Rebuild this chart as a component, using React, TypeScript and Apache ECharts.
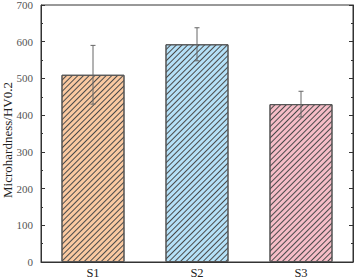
import React, { useEffect, useRef } from "react";
import * as echarts from "echarts";

const categories = ["S1", "S2", "S3"];
const values = [510, 593, 430];
const errors = [80, 45, 35];
const colors = ["#FAC9A1", "#B5E1F8", "#F6BDC7"];
const yTicks = { min: 0, max: 700, interval: 100 };
const yTitle = "Microhardness/HV0.2";

export default function App() {
  const ref = useRef<HTMLDivElement>(null);
  useEffect(() => {
    const chart = echarts.init(ref.current!, null, { renderer: "svg" });
    const font = "'Liberation Serif', 'Times New Roman', serif";
    const yAxisCommon = {
      type: "value",
      min: yTicks.min,
      max: yTicks.max,
      interval: yTicks.interval,
      axisLine: { show: true, lineStyle: { color: "#333", width: 1 } },
      axisTick: { show: true, inside: true, length: 4, lineStyle: { color: "#333" } },
      minorTick: { show: true, splitNumber: 2, length: 2, lineStyle: { color: "#333" } },
      splitLine: { show: false },
    };
    chart.setOption({
      animation: false,
      grid: {
        left: 41, right: 4, top: 5, bottom: 16,
        containLabel: false,
        outerBoundsMode: "none",
        show: true, borderColor: "#333", borderWidth: 1,
      },
      graphic: [
        {
          type: "text",
          x: 7,
          y: 140,
          rotation: Math.PI / 2,
          style: {
            text: yTitle,
            fontFamily: font,
            fontSize: 13,
            fill: "#222",
            align: "center",
            verticalAlign: "middle",
          },
        },
      ],
      xAxis: [
        {
          type: "category",
          data: categories,
          axisLine: { show: true, lineStyle: { color: "#333" } },
          axisTick: { show: false },
          axisLabel: { color: "#222", fontFamily: font, fontSize: 12.5, margin: 4 },
        },
      ],
      yAxis: [
        {
          ...yAxisCommon,
          axisLabel: { color: "#555", fontFamily: font, fontSize: 11, margin: 8 },
        },
        {
          ...yAxisCommon,
          position: "right",
          axisLabel: { show: false },
        },
      ],
      series: [
        {
          type: "bar",
          barWidth: "60.6%",
          data: values.map((v, i) => ({
            value: v,
            itemStyle: {
              color: colors[i],
              borderColor: "#555",
              borderWidth: 1,
              decal: {
                symbol: "rect",
                symbolSize: 1,
                dashArrayX: [1, 0],
                dashArrayY: [1, 2.6],
                rotation: -Math.PI / 4,
                color: "#4a4a4a",
              },
            },
          })),
        },
        {
          type: "custom",
          data: values.map((v, i) => [i, v - errors[i], v + errors[i]]),
          renderItem: (params: any, api: any) => {
            const x = api.value(0);
            const lo = api.coord([x, api.value(1)]);
            const hi = api.coord([x, api.value(2)]);
            const cap = 2.5;
            const style = { stroke: "#666", lineWidth: 1 };
            return {
              type: "group",
              children: [
                { type: "line", shape: { x1: lo[0], y1: lo[1], x2: hi[0], y2: hi[1] }, style },
                { type: "line", shape: { x1: hi[0] - cap, y1: hi[1], x2: hi[0] + cap, y2: hi[1] }, style },
                { type: "line", shape: { x1: lo[0] - cap, y1: lo[1], x2: lo[0] + cap, y2: lo[1] }, style },
              ],
            };
          },
          z: 10,
        },
      ],
    });
    return () => chart.dispose();
  }, []);
  return <div ref={ref} style={{ width: 357, height: 278, position: "absolute", left: 0, top: 0 }} />;
}
